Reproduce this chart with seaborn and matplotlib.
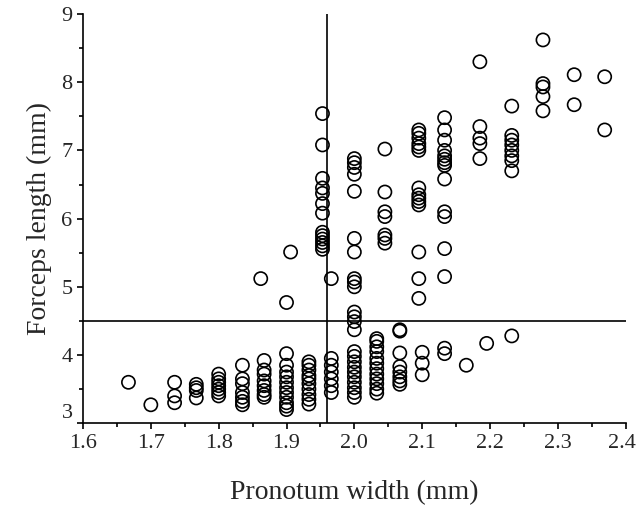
import pandas as pd
import numpy as np
import matplotlib
matplotlib.use('Agg')
import matplotlib.pyplot as plt
import matplotlib.transforms as mtransforms
import seaborn as sns

# pronotum width columns (mm) and the forceps lengths measured at each
width_cols = [1.667, 1.70, 1.735, 1.767, 1.80, 1.835, 1.862, 1.867, 1.90, 1.906,
              1.933, 1.953, 1.966, 2.0, 2.033, 2.045, 2.067, 2.095, 2.10, 2.133,
              2.165, 2.185, 2.195, 2.232, 2.278, 2.324, 2.369]
forceps_vals = [
    [3.6],
    [3.27],
    [3.6, 3.4, 3.3],
    [3.57, 3.52, 3.48, 3.37],
    [3.72, 3.65, 3.6, 3.55, 3.5, 3.45, 3.4],
    [3.85, 3.65, 3.58, 3.45, 3.38, 3.32, 3.27],
    [5.12],
    [3.92, 3.78, 3.72, 3.62, 3.55, 3.48, 3.42, 3.38],
    [4.77, 4.02, 3.85, 3.75, 3.68, 3.6, 3.52, 3.45, 3.38, 3.3, 3.25, 3.2],
    [5.51],
    [3.9, 3.85, 3.78, 3.7, 3.65, 3.58, 3.5, 3.42, 3.35, 3.28],
    [7.54, 7.08, 6.59, 6.45, 6.37, 6.22, 6.08, 5.8, 5.75, 5.7, 5.65, 5.6, 5.55],
    [5.12, 3.95, 3.85, 3.75, 3.65, 3.55, 3.45],
    [6.88, 6.82, 6.75, 6.65, 6.4, 5.71, 5.51, 5.12, 5.07, 5.0, 4.63, 4.56,
     4.49, 4.37, 4.05, 3.98, 3.9, 3.82, 3.75, 3.68, 3.6, 3.52, 3.45, 3.38],
    [4.24, 4.2, 4.12, 4.05, 3.95, 3.88, 3.8, 3.72, 3.65, 3.58, 3.5, 3.44],
    [7.02, 6.39, 6.10, 6.03, 5.76, 5.71, 5.64],
    [4.37, 4.35, 4.03, 3.83, 3.75, 3.68, 3.62, 3.57],
    [7.3, 7.25, 7.18, 7.1, 7.05, 7.0, 6.45, 6.35, 6.3, 6.25, 6.2, 5.51, 5.12, 4.83],
    [4.04, 3.88, 3.71],
    [7.48, 7.3, 7.15, 7.0, 6.92, 6.87, 6.82, 6.78, 6.58, 6.10, 6.03, 5.56, 5.15, 4.1, 4.02],
    [3.85],
    [8.30, 7.35, 7.18, 7.10, 6.88],
    [4.17],
    [7.65, 7.22, 7.15, 7.08, 7.0, 6.92, 6.85, 6.7, 4.28],
    [8.62, 7.98, 7.93, 7.79, 7.58],
    [8.11, 7.67],
    [8.08, 7.30],
]

# switch points
width_cut = 1.96
length_cut = 4.5

df = pd.DataFrame({'width': width_cols, 'length': forceps_vals}).explode('length')
df['length'] = df['length'].astype(float)

sns.set_style('ticks')
plt.rcParams['font.family'] = ['Liberation Serif', 'DejaVu Serif']

fig = plt.figure(figsize=(6.37, 5.25), dpi=100)
ax = fig.add_axes([0.1303, 0.1939, 0.852, 0.7794])

sns.scatterplot(data=df, x='width', y='length', ax=ax, marker='o', s=90,
                facecolor='none', edgecolor='black', linewidth=1.2, legend=False)

ax.axvline(width_cut, color='black', lw=1.2)
ax.axhline(length_cut, color='black', lw=1.2)

ax.set_xlim(1.6, 2.4)
ax.set_ylim(3, 9)
ax.set_xticks(np.arange(1.6, 2.41, 0.1))
ax.set_xticks(np.arange(1.65, 2.4, 0.1), minor=True)
ax.set_yticks(range(3, 10))
ax.set_yticks(np.arange(3.5, 9, 1), minor=True)
ax.set_xticklabels([f'{v:.1f}' for v in np.arange(1.6, 2.41, 0.1)])

ax.tick_params(which='both', direction='out', width=1.2, color='black', labelsize=16)
ax.tick_params(which='major', length=4)
ax.tick_params(which='minor', length=3)
for sp in ['top', 'right']:
    ax.spines[sp].set_visible(False)
for sp in ['left', 'bottom']:
    ax.spines[sp].set_linewidth(1.2)
    ax.spines[sp].set_color('black')

# bottom y label sits above the axis corner, last x label nudged in
ax.get_yticklabels()[0].set_va('bottom')
last = ax.get_xticklabels()[-1]
last.set_transform(last.get_transform() +
                   mtransforms.ScaledTranslation(-0.04, 0, fig.dpi_scale_trans))

ax.set_xlabel('Pronotum width (mm)', fontsize=20, labelpad=20)
ax.set_ylabel('Forceps length (mm)', fontsize=20, labelpad=7)

fig.savefig('out.png', dpi=100)
